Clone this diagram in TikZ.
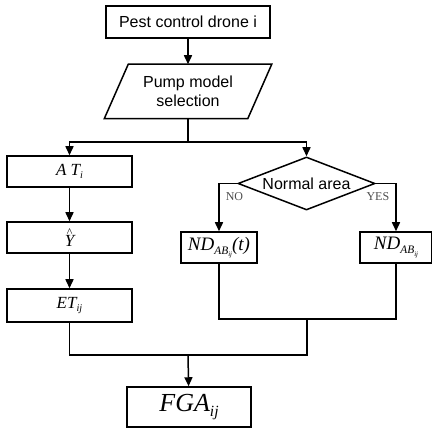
\documentclass[tikz,border=0pt]{standalone}
\usepackage{fontspec}
\usepackage{graphicx}
\setmainfont{Liberation Serif}
\setsansfont{Liberation Sans}
\usetikzlibrary{positioning,arrows.meta,shapes.geometric}

\newcommand{\lsub}[1]{\raisebox{-0.45ex}{\scalebox{0.6}{#1}}}
\newcommand{\hatY}{\makebox[0pt][l]{\raisebox{0.62em}{\hspace{0.12em}\upshape\scalebox{0.7}{\^{}}}}Y}

\begin{document}
\begin{tikzpicture}[
  x=1pt, y=1pt, line width=1.5pt,
  >={Triangle[length=9pt,width=8pt]},
  box/.style={draw, inner sep=0pt, minimum height=31pt,
              font=\fontsize{17}{19}\selectfont\itshape},
  sbox/.style={box, font=\fontsize{16}{19}\selectfont\sffamily, align=center},
  ndbox/.style={box, font=\fontsize{19}{21}\selectfont\itshape},
  decision/.style={draw, diamond, aspect=2.6, inner sep=0pt,
                   minimum width=137pt, minimum height=53pt,
                   font=\fontsize{16}{19}\selectfont\sffamily},
  lbl/.style={inner sep=0pt, text=black!70, font=\fontsize{12}{14}\selectfont},
]
\useasboundingbox (0,0) rectangle (432,428);

\node[sbox, minimum width=164pt, minimum height=32pt] (drone) at (188,406) {Pest control drone i};
\node[sbox, draw=none, minimum width=142pt, minimum height=53pt] (pump) at (188,336.5) {Pump model\\selection};
\draw ([xshift=12pt]pump.north west) -- ([xshift=12pt]pump.north east)
  -- ([xshift=-12pt]pump.south east) -- ([xshift=-12pt]pump.south west) -- cycle;

\node[box, minimum width=125pt] (at) at (69.5,256.5) {A T\lsub{i}};
\node[box, minimum width=125pt] (yhat) at (69.5,190.5) {\hatY};
\node[box, minimum width=125pt, minimum height=33pt] (et) at (69.5,122.5) {ET\lsub{ij}};

\node[decision] (area) at (306.5,244.5) {Normal area};
\node[ndbox, minimum width=76pt] (ndt) at (219,180.5) {ND\lsub{AB\lsub{ij}}(t)};
\node[ndbox, minimum width=72pt] (nd) at (396,180.5) {ND\lsub{AB\lsub{ij}}};

\node[box, minimum width=124pt, minimum height=40pt,
      font=\fontsize{26}{28}\selectfont\itshape] (fga) at (189,21) {FGA\lsub{ij}};

\coordinate (split) at (188,286);
\coordinate (rbot) at (307,109);
\coordinate (rjoin) at (307,73);
\coordinate (mid) at (188,73);

\draw[->] (drone) -- (pump);
\draw (pump) -- (split);
\draw[->] (split) -| (at);
\draw[->] (split) -| (area);
\draw[->] (at) -- (yhat);
\draw[->] (yhat) -- (et);
\draw[->] (area.west) -| node[lbl, pos=0.5, below right=8pt and 6pt]{NO} (ndt);
\draw[->] (area.east) -| node[lbl, pos=0.5, below left=8pt and 6pt]{YES} (nd);
\draw (ndt.south) |- (rbot) -| (nd.south);
\draw (et.south) |- (rjoin) -- (rbot);
\draw[->] (mid) -- (fga);
\end{tikzpicture}
\end{document}
